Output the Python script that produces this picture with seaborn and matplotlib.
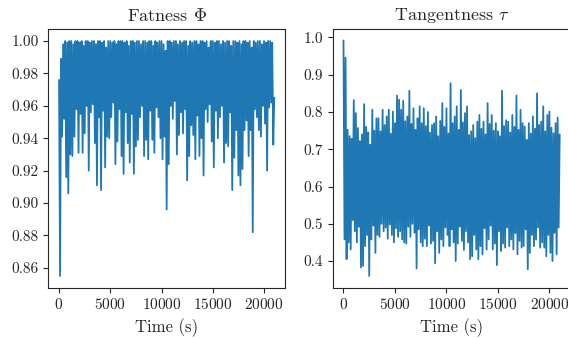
import numpy as np
import seaborn as sns
import matplotlib.pyplot as plt

# time axis, one sample every 100 s
t = np.arange(211) * 100

# fatness: upper samples (t = 0, 200, ...) and lower samples (t = 100, 300, ...)
phi_high = [0.976, 0.989, 0.998, 1.000, 0.999, 1.000, 1.000, 0.998, 1.000, 1.000,
            0.999, 1.000, 0.997, 1.000, 1.000, 0.999, 1.000, 1.000, 0.998, 1.000,
            1.000, 0.999, 1.000, 0.996, 1.000, 1.000, 0.999, 1.000, 0.998, 1.000,
            1.000, 1.000, 0.999, 1.000, 0.997, 1.000, 1.000, 0.999, 1.000, 1.000,
            0.998, 1.000, 1.000, 0.999, 1.000, 1.000, 0.997, 1.000, 0.999, 1.000,
            1.000, 0.998, 0.994, 1.000, 1.000, 0.999, 1.000, 1.000, 0.998, 1.000,
            0.999, 1.000, 1.000, 0.997, 1.000, 0.999, 1.000, 1.000, 0.998, 1.000,
            1.000, 0.999, 1.000, 0.996, 1.000, 1.000, 0.999, 1.000, 1.000, 0.998,
            1.000, 0.999, 1.000, 1.000, 0.997, 1.000, 1.000, 0.999, 1.000, 0.998,
            1.000, 1.000, 0.999, 1.000, 0.996, 1.000, 0.999, 1.000, 1.000, 0.998,
            1.000, 0.999, 1.000, 1.000, 0.999, 0.965]
phi_low = [0.855, 0.941, 0.952, 0.916, 0.906, 0.930, 0.929, 0.941, 0.958, 0.931,
           0.955, 0.931, 0.943, 0.960, 0.920, 0.956, 0.961, 0.937, 0.911, 0.953,
           0.908, 0.957, 0.922, 0.941, 0.940, 0.953, 0.962, 0.924, 0.938, 0.958,
           0.929, 0.918, 0.956, 0.937, 0.925, 0.955, 0.918, 0.935, 0.939, 0.953,
           0.960, 0.929, 0.939, 0.927, 0.957, 0.939, 0.931, 0.959, 0.953, 0.940,
           0.927, 0.941, 0.896, 0.924, 0.960, 0.952, 0.963, 0.930, 0.942, 0.956,
           0.943, 0.958, 0.914, 0.929, 0.948, 0.942, 0.927, 0.954, 0.929, 0.940,
           0.917, 0.958, 0.950, 0.961, 0.938, 0.922, 0.957, 0.940, 0.953, 0.960,
           0.925, 0.937, 0.935, 0.956, 0.908, 0.928, 0.945, 0.917, 0.911, 0.921,
           0.945, 0.951, 0.929, 0.945, 0.882, 0.958, 0.953, 0.945, 0.941, 0.960,
           0.949, 0.920, 0.959, 0.962, 0.936]

# tangentness: upper and lower samples on the same grid
tau_high = [0.992, 0.946, 0.752, 0.735, 0.728, 0.832, 0.797, 0.757, 0.722, 0.740,
            0.821, 0.760, 0.745, 0.712, 0.806, 0.750, 0.783, 0.783, 0.748, 0.806,
            0.765, 0.788, 0.806, 0.742, 0.801, 0.770, 0.844, 0.833, 0.806, 0.830,
            0.775, 0.788, 0.857, 0.768, 0.810, 0.752, 0.783, 0.815, 0.770, 0.810,
            0.762, 0.800, 0.745, 0.765, 0.770, 0.788, 0.735, 0.776, 0.824, 0.760,
            0.810, 0.742, 0.877, 0.770, 0.788, 0.815, 0.752, 0.859, 0.772, 0.797,
            0.815, 0.738, 0.748, 0.765, 0.730, 0.774, 0.792, 0.755, 0.774, 0.740,
            0.824, 0.768, 0.792, 0.750, 0.770, 0.748, 0.735, 0.857, 0.762, 0.778,
            0.774, 0.745, 0.792, 0.760, 0.844, 0.752, 0.806, 0.770, 0.761, 0.725,
            0.770, 0.742, 0.788, 0.755, 0.850, 0.765, 0.774, 0.815, 0.748, 0.792,
            0.801, 0.758, 0.743, 0.770, 0.785, 0.740]
tau_low = [0.458, 0.405, 0.450, 0.431, 0.510, 0.480, 0.450, 0.492, 0.383, 0.387,
           0.440, 0.470, 0.360, 0.458, 0.495, 0.422, 0.470, 0.465, 0.500, 0.480,
           0.490, 0.460, 0.498, 0.470, 0.450, 0.488, 0.465, 0.480, 0.458, 0.450,
           0.447, 0.492, 0.465, 0.500, 0.476, 0.380, 0.485, 0.450, 0.440, 0.460,
           0.440, 0.495, 0.447, 0.454, 0.394, 0.480, 0.422, 0.458, 0.440, 0.490,
           0.470, 0.440, 0.485, 0.450, 0.400, 0.447, 0.492, 0.454, 0.430, 0.480,
           0.450, 0.405, 0.413, 0.470, 0.431, 0.405, 0.440, 0.418, 0.488, 0.431,
           0.458, 0.495, 0.431, 0.447, 0.389, 0.480, 0.427, 0.447, 0.436, 0.490,
           0.440, 0.458, 0.431, 0.475, 0.418, 0.454, 0.436, 0.440, 0.485, 0.378,
           0.422, 0.470, 0.440, 0.458, 0.490, 0.436, 0.450, 0.436, 0.413, 0.470,
           0.422, 0.400, 0.476, 0.418, 0.490]

phi = np.empty(len(t))
phi[0::2] = phi_high
phi[1::2] = phi_low
tau = np.empty(len(t))
tau[0::2] = tau_high
tau[1::2] = tau_low

sns.set_style("ticks")
plt.rcParams.update({
    "font.family": "serif",
    "font.serif": ["cmr10"],
    "mathtext.fontset": "cm",
    "axes.formatter.use_mathtext": True,
    "font.size": 11,
    "axes.titlesize": 13,
    "axes.labelsize": 12,
    "xtick.labelsize": 11,
    "ytick.labelsize": 11,
    "xtick.major.size": 3.5,
    "ytick.major.size": 3.5,
    "axes.linewidth": 0.8,
})

fig, (ax1, ax2) = plt.subplots(1, 2, figsize=(5.68, 3.39), dpi=100)
ax1.set_position([0.085, 0.1513, 0.4168, 0.7623])
ax2.set_position([0.5857, 0.1513, 0.4187, 0.7641])

sns.lineplot(x=t, y=phi, ax=ax1, lw=1.3, color="#1f77b4")
ax1.set_title(r"Fatness $\Phi$")
ax1.set_xlabel("Time (s)")
ax1.set_xticks([0, 5000, 10000, 15000, 20000])
ax1.set_yticks([0.86, 0.88, 0.90, 0.92, 0.94, 0.96, 0.98, 1.00])
ax1.yaxis.set_major_formatter(plt.FormatStrFormatter("%.2f"))

sns.lineplot(x=t, y=tau, ax=ax2, lw=1.3, color="#1f77b4")
ax2.set_title(r"Tangentness $\tau$")
ax2.set_xlabel("Time (s)")
ax2.set_xticks([0, 5000, 10000, 15000, 20000])
ax2.set_yticks([0.4, 0.5, 0.6, 0.7, 0.8, 0.9, 1.0])
ax2.yaxis.set_major_formatter(plt.FormatStrFormatter("%.1f"))

plt.savefig("out.png", dpi=100)
